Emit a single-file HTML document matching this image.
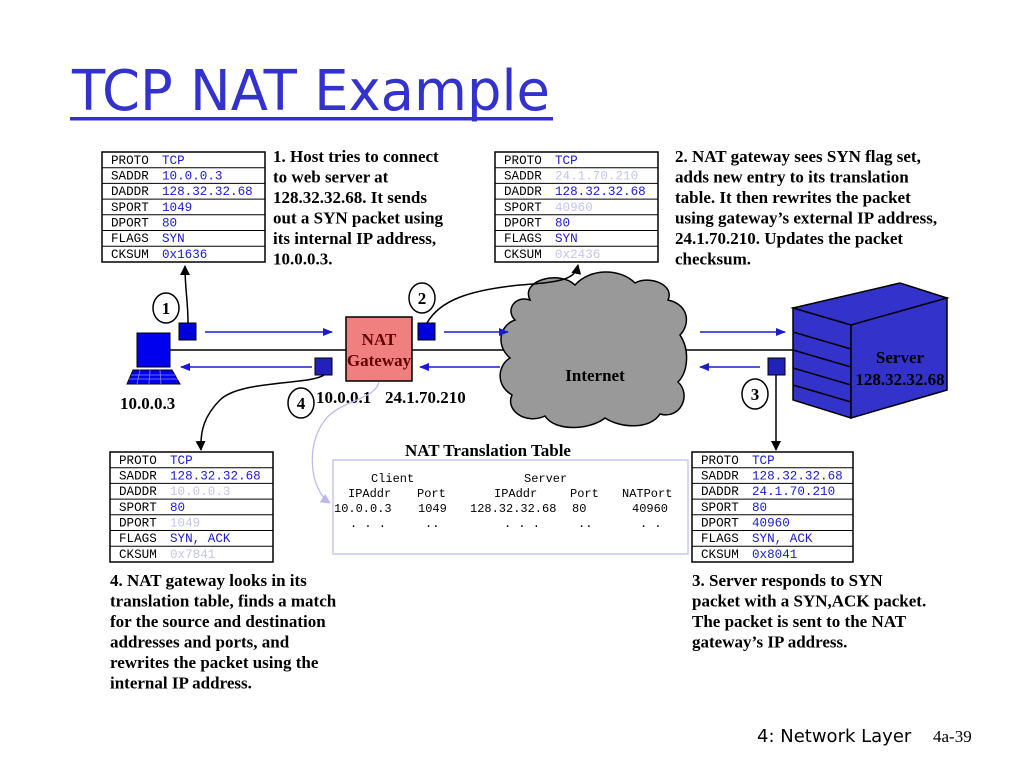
<!DOCTYPE html>
<html><head><meta charset="utf-8"><style>
body{margin:0;background:#fff}
svg{display:block}
.m{font-family:"Liberation Mono",monospace;font-size:12.6px}
.n{font-family:"Liberation Mono",monospace;font-size:12px}
.k{fill:#000}.b{fill:#1a1ad0}.l{fill:#c4c4ee}
.t{font-family:"Liberation Serif",serif;font-weight:bold;font-size:17px}
</style></head><body>
<svg width="1024" height="768" viewBox="0 0 1024 768" xmlns="http://www.w3.org/2000/svg">
<defs>
<marker id="ab" markerWidth="10" markerHeight="8" refX="9" refY="4" orient="auto" markerUnits="userSpaceOnUse"><path d="M0,0L10,4L0,8z" fill="#1a1ad0"/></marker>
<marker id="ak" markerWidth="10" markerHeight="10" refX="9" refY="5" orient="auto" markerUnits="userSpaceOnUse"><path d="M0,0L10,5L0,10z" fill="#000"/></marker>
<marker id="al" markerWidth="10" markerHeight="10" refX="9" refY="5" orient="auto" markerUnits="userSpaceOnUse"><path d="M0,0L10,5L0,10z" fill="#b8b8ee"/></marker>
</defs>
<text x="72" y="110" font-family="'Comic Sans MS','DejaVu Sans',sans-serif" font-size="56" fill="#3333cc" textLength="478" lengthAdjust="spacingAndGlyphs">TCP NAT Example</text>
<rect x="70" y="117" width="483" height="3.5" fill="#3333cc"/>

<g transform="translate(102,152)">
<rect width="163" height="110" fill="#fff" stroke="#000" stroke-width="1.5"/>
<g stroke="#000"><line x1="0" x2="163" y1="15.7" y2="15.7"/><line x1="0" x2="163" y1="31.4" y2="31.4"/><line x1="0" x2="163" y1="47.1" y2="47.1"/><line x1="0" x2="163" y1="62.8" y2="62.8"/><line x1="0" x2="163" y1="78.5" y2="78.5"/><line x1="0" x2="163" y1="94.2" y2="94.2"/></g>
<g class="m k"><text x="9" y="12">PROTO</text><text x="9" y="27.5">SADDR</text><text x="9" y="43">DADDR</text><text x="9" y="59">SPORT</text><text x="9" y="74.5">DPORT</text><text x="9" y="90">FLAGS</text><text x="9" y="106">CKSUM</text></g>
<g class="m b"><text x="60" y="12">TCP</text><text x="60" y="27.5">10.0.0.3</text><text x="60" y="43">128.32.32.68</text><text x="60" y="59">1049</text><text x="60" y="74.5">80</text><text x="60" y="90">SYN</text><text x="60" y="106">0x1636</text></g>
</g>
<g transform="translate(495,152)">
<rect width="163" height="110" fill="#fff" stroke="#000" stroke-width="1.5"/>
<g stroke="#000"><line x1="0" x2="163" y1="15.7" y2="15.7"/><line x1="0" x2="163" y1="31.4" y2="31.4"/><line x1="0" x2="163" y1="47.1" y2="47.1"/><line x1="0" x2="163" y1="62.8" y2="62.8"/><line x1="0" x2="163" y1="78.5" y2="78.5"/><line x1="0" x2="163" y1="94.2" y2="94.2"/></g>
<g class="m k"><text x="9" y="12">PROTO</text><text x="9" y="27.5">SADDR</text><text x="9" y="43">DADDR</text><text x="9" y="59">SPORT</text><text x="9" y="74.5">DPORT</text><text x="9" y="90">FLAGS</text><text x="9" y="106">CKSUM</text></g>
<g class="m"><text class="b" x="60" y="12">TCP</text><text class="l" x="60" y="27.5">24.1.70.210</text><text class="b" x="60" y="43">128.32.32.68</text><text class="l" x="60" y="59">40960</text><text class="b" x="60" y="74.5">80</text><text class="b" x="60" y="90">SYN</text><text class="l" x="60" y="106">0x2436</text></g>
</g>
<g transform="translate(110,452)">
<rect width="163" height="110" fill="#fff" stroke="#000" stroke-width="1.5"/>
<g stroke="#000"><line x1="0" x2="163" y1="15.7" y2="15.7"/><line x1="0" x2="163" y1="31.4" y2="31.4"/><line x1="0" x2="163" y1="47.1" y2="47.1"/><line x1="0" x2="163" y1="62.8" y2="62.8"/><line x1="0" x2="163" y1="78.5" y2="78.5"/><line x1="0" x2="163" y1="94.2" y2="94.2"/></g>
<g class="m k"><text x="9" y="12">PROTO</text><text x="9" y="27.5">SADDR</text><text x="9" y="43">DADDR</text><text x="9" y="59">SPORT</text><text x="9" y="74.5">DPORT</text><text x="9" y="90">FLAGS</text><text x="9" y="106">CKSUM</text></g>
<g class="m"><text class="b" x="60" y="12">TCP</text><text class="b" x="60" y="27.5">128.32.32.68</text><text class="l" x="60" y="43">10.0.0.3</text><text class="b" x="60" y="59">80</text><text class="l" x="60" y="74.5">1049</text><text class="b" x="60" y="90">SYN, ACK</text><text class="l" x="60" y="106">0x7841</text></g>
</g>
<g transform="translate(692,452)">
<rect width="161" height="110" fill="#fff" stroke="#000" stroke-width="1.5"/>
<g stroke="#000"><line x1="0" x2="161" y1="15.7" y2="15.7"/><line x1="0" x2="161" y1="31.4" y2="31.4"/><line x1="0" x2="161" y1="47.1" y2="47.1"/><line x1="0" x2="161" y1="62.8" y2="62.8"/><line x1="0" x2="161" y1="78.5" y2="78.5"/><line x1="0" x2="161" y1="94.2" y2="94.2"/></g>
<g class="m k"><text x="9" y="12">PROTO</text><text x="9" y="27.5">SADDR</text><text x="9" y="43">DADDR</text><text x="9" y="59">SPORT</text><text x="9" y="74.5">DPORT</text><text x="9" y="90">FLAGS</text><text x="9" y="106">CKSUM</text></g>
<g class="m b"><text x="60" y="12">TCP</text><text x="60" y="27.5">128.32.32.68</text><text x="60" y="43">24.1.70.210</text><text x="60" y="59">80</text><text x="60" y="74.5">40960</text><text x="60" y="90">SYN, ACK</text><text x="60" y="106">0x8041</text></g>
</g>

<g class="t">
<text x="273" y="162">1. Host tries to connect</text><text x="273" y="182.5">to web server at</text><text x="273" y="203">128.32.32.68. It sends</text><text x="273" y="223.5">out a SYN packet using</text><text x="273" y="244">its internal IP address,</text><text x="273" y="264.5">10.0.0.3.</text>
<text x="675" y="162">2. NAT gateway sees SYN flag set,</text><text x="675" y="182.5">adds new entry to its translation</text><text x="675" y="203">table. It then rewrites the packet</text><text x="675" y="223.5">using gateway’s external IP address,</text><text x="675" y="244">24.1.70.210. Updates the packet</text><text x="675" y="264.5">checksum.</text>
<text x="110" y="586">4. NAT gateway looks in its</text><text x="110" y="606.5">translation table, finds a match</text><text x="110" y="627">for the source and destination</text><text x="110" y="647.5">addresses and ports, and</text><text x="110" y="668">rewrites the packet using the</text><text x="110" y="688.5">internal IP address.</text>
<text x="692" y="586">3. Server responds to SYN</text><text x="692" y="606.5">packet with a SYN,ACK packet.</text><text x="692" y="627">The packet is sent to the NAT</text><text x="692" y="647.5">gateway’s IP address.</text>
</g>

<line x1="170" y1="350" x2="795" y2="350" stroke="#000" stroke-width="1.5"/>

<path d="M530,300 C520,280 560,270 575,285 C590,268 620,268 635,283 C650,275 675,285 668,300 C690,305 690,325 680,335 C690,350 688,372 678,382 C692,395 680,420 660,414 C650,430 620,428 605,418 C590,430 555,432 545,416 C525,425 505,410 512,395 C495,385 498,365 510,358 C495,345 500,325 515,320 C505,310 515,295 530,300Z" fill="#999" stroke="#000" stroke-width="1.5"/>
<text x="595" y="381" text-anchor="middle" class="t">Internet</text>

<rect x="137" y="333" width="33" height="34" fill="#0000ee" stroke="#000"/>
<path d="M133,370 L172,370 L180,384 L127,384Z" fill="#0000ee" stroke="#000"/>
<g stroke="#88f" stroke-width="0.8"><line x1="131" y1="375" x2="176" y2="375"/><line x1="129" y1="379" x2="178" y2="379"/><line x1="140" y1="370" x2="137" y2="384"/><line x1="150" y1="370" x2="149" y2="384"/><line x1="160" y1="370" x2="161" y2="384"/></g>
<text x="120" y="409" class="t">10.0.0.3</text>

<rect x="346" y="317" width="66" height="64" fill="#f08080" stroke="#000" stroke-width="1.5"/>
<text x="379" y="345" text-anchor="middle" class="t" fill="#600">NAT</text>
<text x="379" y="366" text-anchor="middle" class="t" fill="#600">Gateway</text>
<text x="316" y="403" class="t">10.0.0.1</text>
<text x="385" y="403" class="t">24.1.70.210</text>

<polygon points="793,308 900,283 947,298 851,325" fill="#3333cc" stroke="#000" stroke-width="1.5"/>
<polygon points="793,308 851,325 851,418 793,400" fill="#3333cc" stroke="#000" stroke-width="1.5"/>
<polygon points="851,325 947,298 947,390 851,418" fill="#3333cc" stroke="#000" stroke-width="1.5"/>
<g stroke="#000" stroke-width="1.5"><line x1="793" y1="332" x2="851" y2="349"/><line x1="793" y1="350" x2="851" y2="367"/><line x1="793" y1="368" x2="851" y2="385"/><line x1="793" y1="385" x2="851" y2="402"/></g>
<text x="900" y="363" text-anchor="middle" class="t" fill="#000">Server</text>
<text x="900" y="385" text-anchor="middle" class="t" fill="#000">128.32.32.68</text>

<g stroke="#1a1ad0" stroke-width="1.5">
<line x1="205" y1="332" x2="332" y2="332" marker-end="url(#ab)"/>
<line x1="312" y1="367" x2="181" y2="367" marker-end="url(#ab)"/>
<line x1="444" y1="332" x2="508" y2="332" marker-end="url(#ab)"/>
<line x1="500" y1="367" x2="420" y2="367" marker-end="url(#ab)"/>
<line x1="700" y1="332" x2="785" y2="332" marker-end="url(#ab)"/>
<line x1="760" y1="367" x2="700" y2="367" marker-end="url(#ab)"/>
</g>
<rect x="179" y="323" width="17" height="17" fill="#0000dd" stroke="#000"/>
<rect x="418" y="323" width="17" height="17" fill="#0000dd" stroke="#000"/>
<rect x="315" y="358" width="17" height="17" fill="#2222bb" stroke="#000"/>
<rect x="768" y="358" width="17" height="17" fill="#2222bb" stroke="#000"/>

<g fill="none" stroke="#000" stroke-width="1.5">
<path d="M188,323 C188,300 185,290 185,266" marker-end="url(#ak)"/>
<path d="M427,323 C440,300 470,290 520,285 C560,282 575,280 578,265" marker-end="url(#ak)"/>
<path d="M324,375 C310,385 240,380 220,400 C205,415 200,430 201,450" marker-end="url(#ak)"/>
<path d="M776,375 L776,450" marker-end="url(#ak)"/>
</g>
<path d="M379,382 C375,400 340,400 325,420 C305,445 310,490 330,503" fill="none" stroke="#b8b8ee" stroke-width="1.2" marker-end="url(#al)"/>
<g fill="#fff" stroke="#000" stroke-width="1.5">
<ellipse cx="166" cy="308" rx="13" ry="15"/><ellipse cx="422" cy="298" rx="13" ry="15"/><ellipse cx="301" cy="403" rx="13" ry="15"/><ellipse cx="755" cy="394" rx="13" ry="15"/>
</g>
<g class="t" text-anchor="middle" font-size="18"><text x="166" y="314">1</text><text x="422" y="304">2</text><text x="301" y="409">4</text><text x="755" y="400">3</text></g>

<text x="488" y="456" text-anchor="middle" class="t">NAT Translation Table</text>
<rect x="333" y="460" width="355" height="94" fill="none" stroke="#c8c8ee" stroke-width="1.5"/>
<g class="n k">
<text x="371" y="482">Client</text><text x="524" y="482">Server</text>
<text x="348" y="497">IPAddr</text><text x="417" y="497">Port</text><text x="494" y="497">IPAddr</text><text x="570" y="497">Port</text><text x="622" y="497">NATPort</text>
<text x="334" y="512">10.0.0.3</text><text x="418" y="512">1049</text><text x="470" y="512">128.32.32.68</text><text x="572" y="512">80</text><text x="632" y="512">40960</text>
<text x="350" y="527">. . .</text><text x="425" y="527">..</text><text x="504" y="527">. . .</text><text x="578" y="527">..</text><text x="640" y="527">. .</text>
</g>

<text x="757" y="742" font-family="'Comic Sans MS','DejaVu Sans',sans-serif" font-size="18" fill="#000">4: Network Layer</text>
<text x="933" y="742" font-family="'Liberation Serif',serif" font-size="17" fill="#000">4a-39</text>
</svg>
</body></html>
